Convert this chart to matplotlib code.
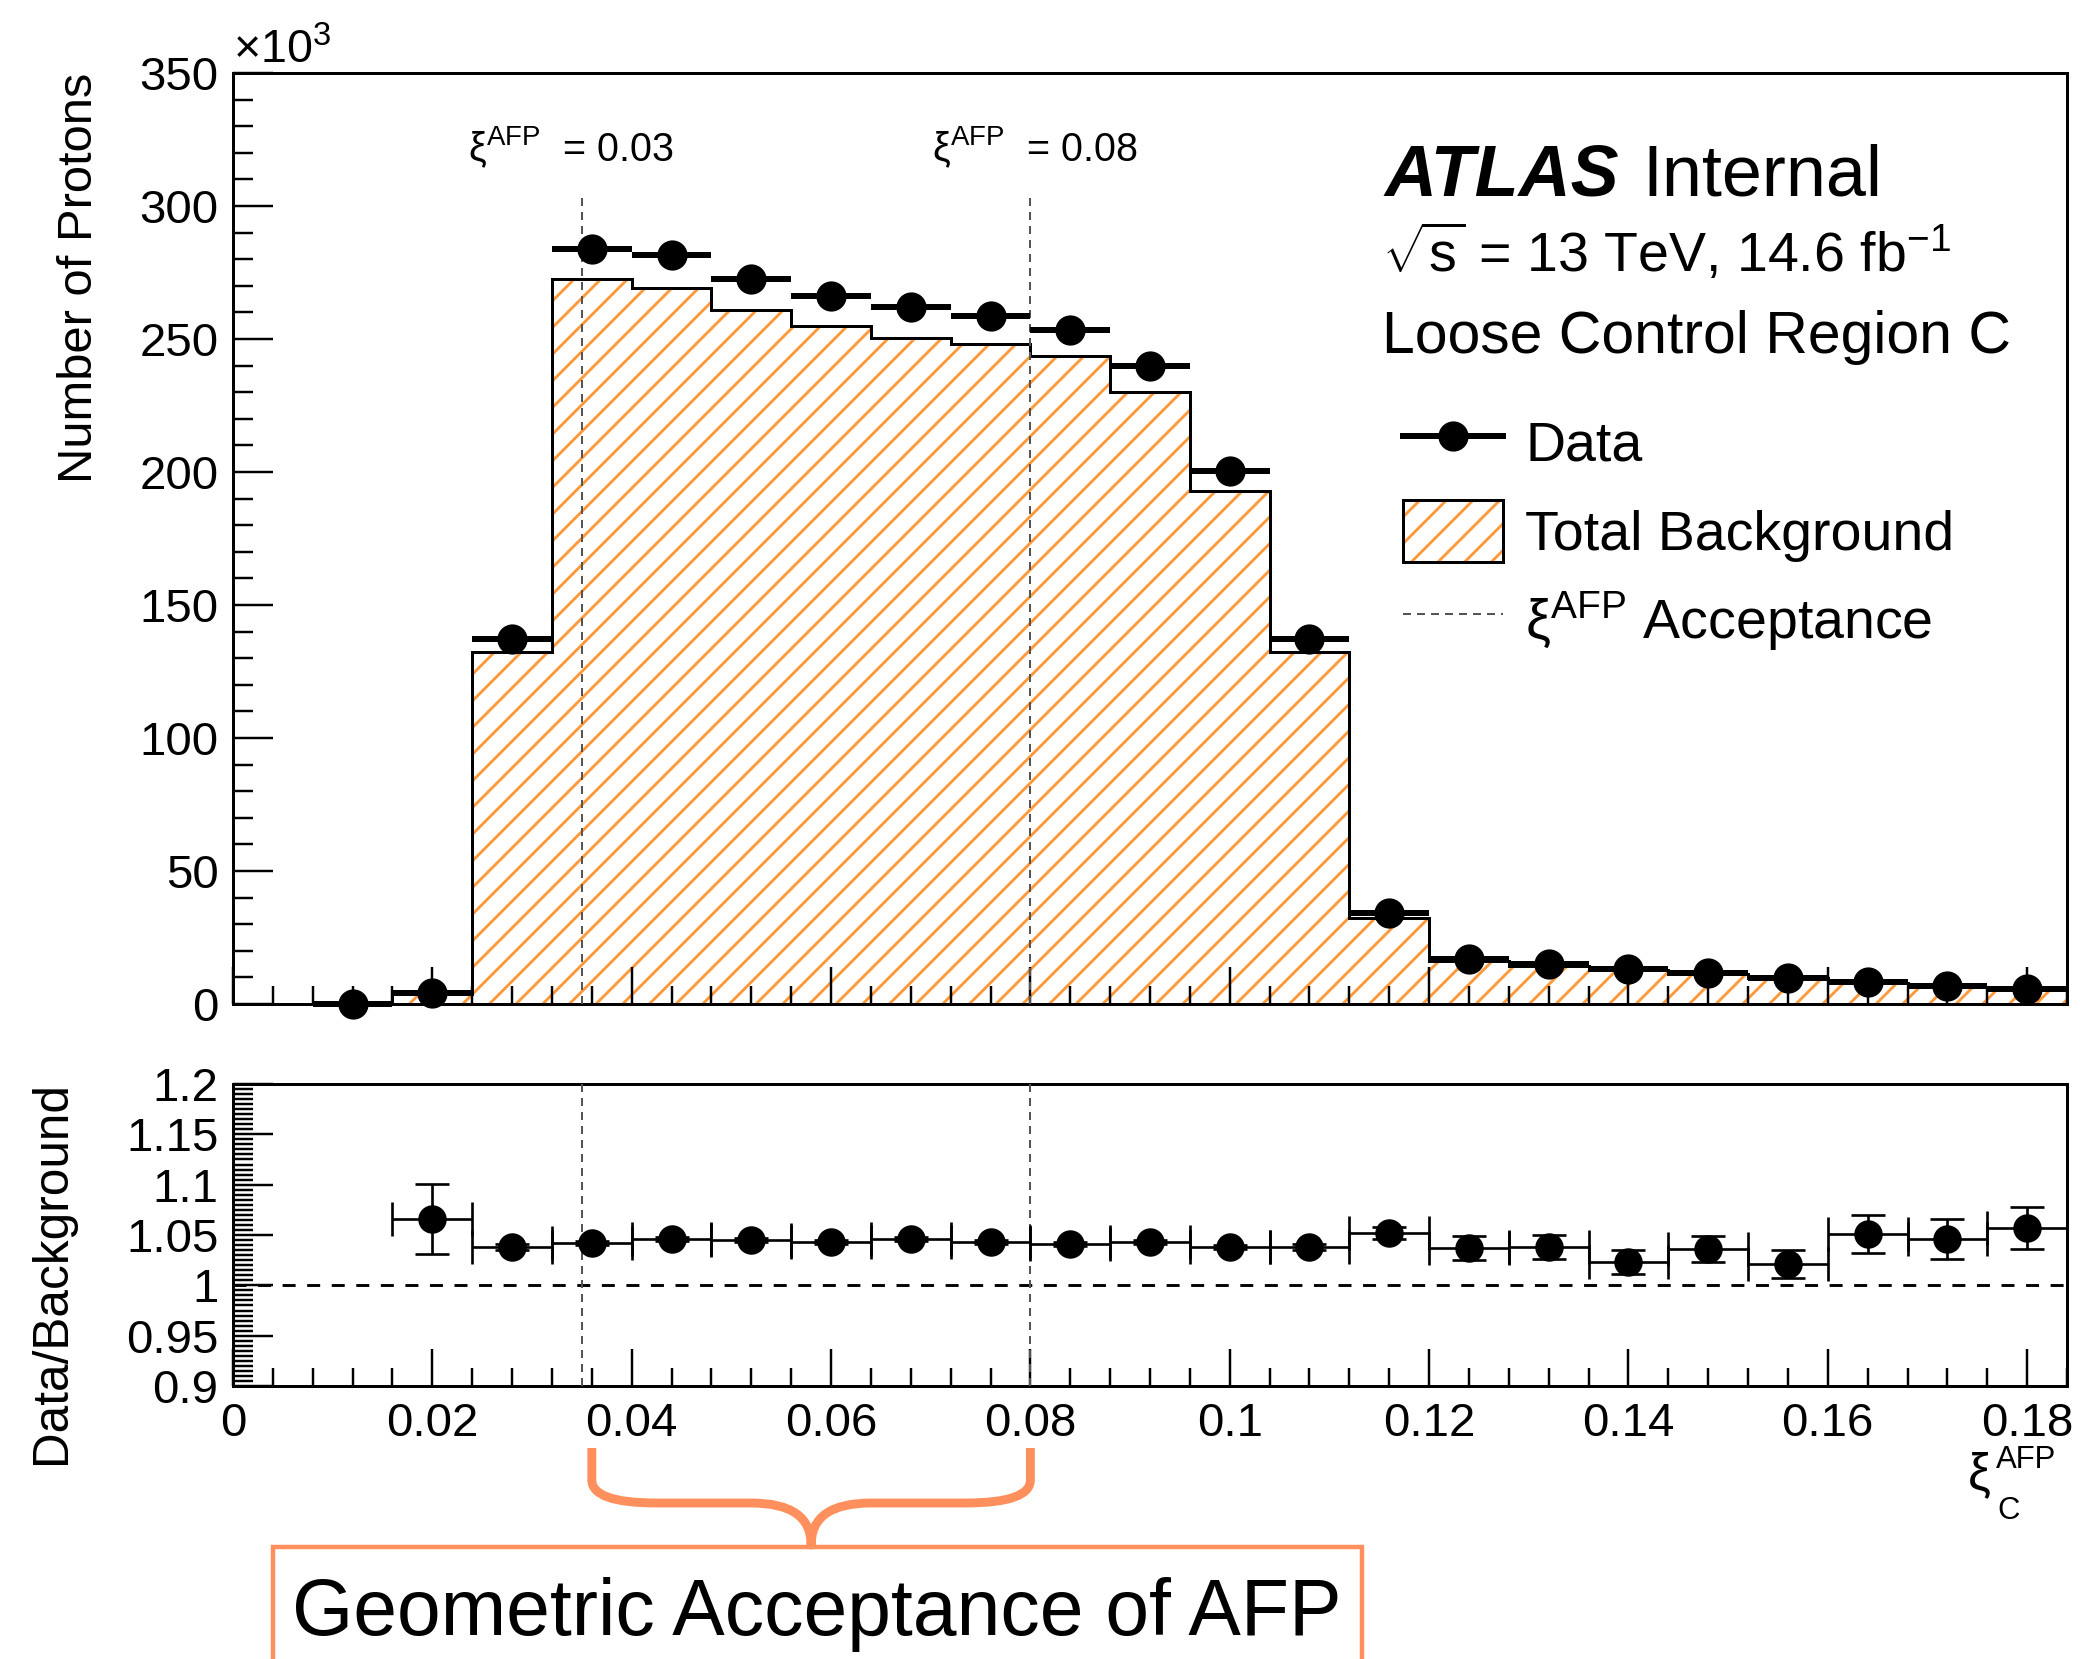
import numpy as np
import matplotlib
matplotlib.use('Agg')
import matplotlib.pyplot as plt
from matplotlib.lines import Line2D
from matplotlib.patches import Patch, Rectangle, PathPatch
from matplotlib.path import Path
from matplotlib.ticker import MultipleLocator, FuncFormatter
from matplotlib.transforms import blended_transform_factory

# --- xi_C binning, 0.008 wide bins ---
bin_edges = np.linspace(0.0, 0.184, 24)
# total background per bin [x10^3 protons]
background = [0.0, 0.0, 3.8, 132.3, 272.5, 269.0, 261.0, 255.0, 250.5, 248.0,
              243.5, 230.0, 193.0, 132.3, 32.5, 16.3, 14.45, 12.9, 11.2, 9.6,
              7.9, 6.5, 5.3]
# data at the bin centres 0.012 ... 0.180 [x10^3 protons]
data_x = np.linspace(0.012, 0.180, 22)
data = [0.0, 4.05, 137.3, 283.9, 281.4, 272.7, 266.0, 262.0, 258.7, 253.5,
        239.9, 200.3, 137.3, 34.2, 16.9, 15.0, 13.2, 11.6, 9.8, 8.3, 6.8, 5.6]
# stat. uncertainty on data/background
ratio_err = [np.nan, 0.035, 0.003, 0.002, 0.002, 0.002, 0.002, 0.002, 0.002,
             0.002, 0.002, 0.002, 0.003, 0.006, 0.012, 0.012, 0.012, 0.013,
             0.014, 0.019, 0.020, 0.021]
# AFP geometric acceptance
acc_x = [0.035, 0.080]
acc_txt = ['0.03', '0.08']
brace_span = (0.036, 0.080)

orange = '#FF9A3C'
salmon = '#FF8F5C'

W, H = 2080, 1659
DPI = 160
plt.rcParams['font.family'] = ['Liberation Sans', 'DejaVu Sans']
plt.rcParams['mathtext.fontset'] = 'custom'
plt.rcParams['mathtext.rm'] = 'Liberation Sans'
plt.rcParams['mathtext.it'] = 'Liberation Sans:italic'
plt.rcParams['mathtext.bf'] = 'Liberation Sans:bold'
plt.rcParams['hatch.linewidth'] = 1.3
plt.rcParams['hatch.color'] = orange


def fx(px):
    return px / W


def fy(py):
    return 1 - py / H


fig = plt.figure(figsize=(W / DPI, H / DPI), dpi=DPI)
ax1 = fig.add_axes([fx(233), fy(1004), (2067 - 233) / W, (1004 - 73) / H])
ax2 = fig.add_axes([fx(233), fy(1386), (2067 - 233) / W, (1386 - 1084) / H])

bkg = np.array(background)
dat = np.array(data)
rerr = np.array(ratio_err)
bkg_c = bkg[1:]
ok = bkg_c > 0
ratio = np.full_like(dat, np.nan)
ratio[ok] = dat[ok] / bkg_c[ok]

# ---- upper panel ----
ax1.stairs(bkg, bin_edges, fill=True, hatch='//', facecolor='none',
           edgecolor=orange, lw=0, zorder=1)
ax1.stairs(bkg, bin_edges, color='k', lw=1.35, zorder=2)
eb = ax1.errorbar(data_x, dat, xerr=0.004, fmt='o', color='k', ms=12.6,
                  elinewidth=2.7, capsize=0, zorder=5)
for a in eb.get_children():
    a.set_clip_on(False)
ax1.vlines(acc_x, 0, 304, colors='#555555', lw=0.9, linestyles=(0, (4, 3)),
           zorder=3)
for xa, t, dx in zip(acc_x, acc_txt, [0.0093, 0.0108]):
    ax1.text(xa + dx, 317, 'ξ$^{\\mathrm{AFP}}$  = ' + t, fontsize=17.8,
             ha='right', va='baseline')

ax1.set_xlim(0, 0.184)
ax1.set_ylim(0, 350)
ax1.xaxis.set_major_locator(MultipleLocator(0.02))
ax1.xaxis.set_minor_locator(MultipleLocator(0.004))
ax1.yaxis.set_major_locator(MultipleLocator(50))
ax1.yaxis.set_minor_locator(MultipleLocator(10))
ax1.tick_params(axis='x', labelbottom=False)

# ---- ratio panel ----
ax2.errorbar(data_x[ok], ratio[ok], xerr=0.004, yerr=rerr[ok], fmt='o',
             color='k', ms=11.8, elinewidth=1.2, capsize=7.6, capthick=1.2,
             zorder=5)
ax2.axhline(1.0, color='k', lw=1.3, linestyle=(0, (4.5, 4)), zorder=2)
ax2.vlines(acc_x, 0.9, 1.2, colors='#555555', lw=0.9, linestyles=(0, (4, 3)),
           zorder=3)
ax2.set_xlim(0, 0.184)
ax2.set_ylim(0.9, 1.2)
ax2.xaxis.set_major_locator(MultipleLocator(0.02))
ax2.xaxis.set_minor_locator(MultipleLocator(0.004))
ax2.yaxis.set_major_locator(MultipleLocator(0.05))
ax2.yaxis.set_minor_locator(MultipleLocator(0.005))
ax2.xaxis.set_major_formatter(FuncFormatter(lambda v, p: '%g' % round(v, 3)))
ax2.yaxis.set_major_formatter(FuncFormatter(lambda v, p: '%g' % round(v, 3)))

for ax in (ax1, ax2):
    for s in ax.spines.values():
        s.set_linewidth(1.35)
    ax.tick_params(which='both', direction='in', top=False, right=False,
                   width=1.1, labelsize=21.3)
    ax.tick_params(axis='y', which='major', length=18, pad=6.5)
    ax.tick_params(axis='y', which='minor', length=9)
    ax.tick_params(axis='x', which='major', length=16.6, pad=7)
    ax.tick_params(axis='x', which='minor', length=8)

fig.text(fx(233), fy(63), '$\\times$10$^{3}$', fontsize=21, va='baseline')
fig.text(fx(80), fy(73), 'Number of Protons', rotation=90, fontsize=22,
         ha='center', va='top')
fig.text(fx(52), fy(1081), 'Data/Background', rotation=90, fontsize=22.3,
         ha='center', va='top')
# x axis title: xi with AFP superscript and C subscript
fig.text(fx(1968), fy(1489), 'ξ', fontsize=23, va='baseline')
fig.text(fx(1996), fy(1468), 'AFP', fontsize=14, va='baseline')
fig.text(fx(1997), fy(1519), 'C', fontsize=14, va='baseline')

# ---- labels and legend ----
fig.text(fx(1384), fy(195), 'ATLAS', fontsize=32.4, fontweight='bold',
         style='italic', va='baseline')
fig.text(fx(1642), fy(195), 'Internal', fontsize=32.4, va='baseline')
fig.text(fx(1382), fy(272), '$\\sqrt{\\mathrm{s}}$ = 13 TeV, 14.6 fb$^{-1}$',
         fontsize=25, va='baseline')
fig.text(fx(1382), fy(353), 'Loose Control Region C', fontsize=26.5,
         va='baseline')

h_data = Line2D([], [], color='k', lw=2.7, marker='o', ms=12.6)
h_bkg = (Patch(facecolor='none', edgecolor=orange, hatch='//', lw=0),
         Patch(facecolor='none', edgecolor='k', lw=1.35))
h_acc = Line2D([], [], color='#555555', lw=0.9, linestyle=(0, (4, 3)))
fig.legend([h_data, h_bkg, h_acc],
           ['Data', 'Total Background', 'ξ$^{\\mathrm{AFP}}$ Acceptance'],
           loc='upper left', bbox_to_anchor=(fx(1403), fy(411)),
           frameon=False, fontsize=25, borderpad=0, borderaxespad=0,
           handlelength=1.8, handleheight=1.35, handletextpad=0.4,
           labelspacing=0.48)

# ---- acceptance brace and box ----
bt = blended_transform_factory(ax2.transData, fig.transFigure)
xl, xr = brace_span
xc = 0.5 * (xl + xr)
d1, d2 = 0.0065, 0.006
y0, y1, y2, y3 = fy(1448), fy(1480), fy(1503), fy(1545)
verts = [(xl, y0), (xl, y1), (xl, y2), (xl + d1, y2), (xc - d2, y2),
         (xc, y2), (xc, y3), (xc, y2), (xc + d2, y2), (xr - d1, y2),
         (xr, y2), (xr, y1), (xr, y0)]
codes = [Path.MOVETO, Path.LINETO, Path.CURVE3, Path.CURVE3, Path.LINETO,
         Path.CURVE3, Path.CURVE3, Path.CURVE3, Path.CURVE3, Path.LINETO,
         Path.CURVE3, Path.CURVE3, Path.LINETO]
fig.add_artist(PathPatch(Path(verts, codes), transform=bt, fill=False,
                         edgecolor=salmon, lw=4.0, capstyle='butt',
                         joinstyle='round', clip_on=False))
fig.add_artist(Rectangle((fx(273), fy(1720)), (1362 - 273) / W,
                         (1720 - 1547) / H, transform=fig.transFigure,
                         fill=False, edgecolor=salmon, lw=2.0, clip_on=False))
fig.text(fx(817), fy(1635), 'Geometric Acceptance of AFP', fontsize=35.4,
         ha='center', va='baseline')

fig.savefig('out.png', dpi=DPI)
